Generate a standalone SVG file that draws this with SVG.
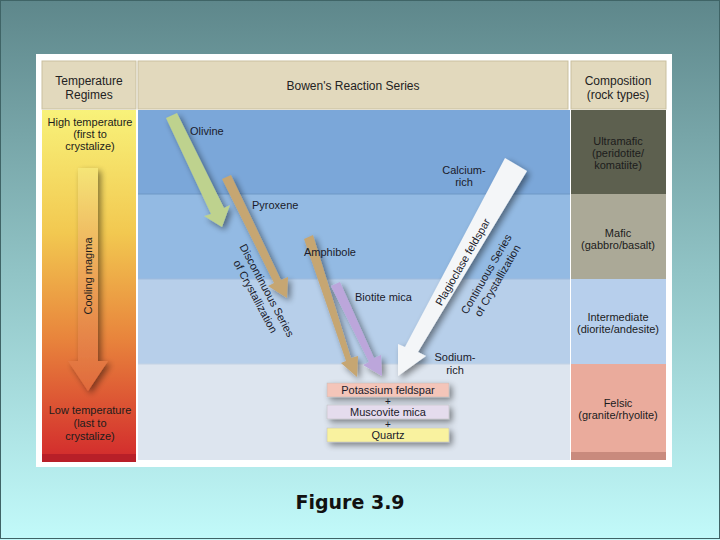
<svg xmlns="http://www.w3.org/2000/svg" width="720" height="540" viewBox="0 0 720 540">
<defs>
<linearGradient id="bg" x1="0" y1="0" x2="0" y2="1">
<stop offset="0" stop-color="#5e878b"/>
<stop offset="0.5" stop-color="#90c3c5"/>
<stop offset="1" stop-color="#c2fafa"/>
</linearGradient>
<linearGradient id="temp" x1="0" y1="0" x2="0" y2="1">
<stop offset="0" stop-color="#f8f27a"/>
<stop offset="0.35" stop-color="#f2c850"/>
<stop offset="0.65" stop-color="#e8843c"/>
<stop offset="1" stop-color="#d2292c"/>
</linearGradient>
<linearGradient id="cool" x1="0" y1="0" x2="0" y2="1">
<stop offset="0" stop-color="#f5e577"/>
<stop offset="0.5" stop-color="#eca255"/>
<stop offset="1" stop-color="#e06a3c"/>
</linearGradient>
<filter id="sh" x="-30%" y="-30%" width="160%" height="160%">
<feGaussianBlur in="SourceAlpha" stdDeviation="3"/>
<feOffset dx="3" dy="3"/>
<feComponentTransfer><feFuncA type="linear" slope="0.45"/></feComponentTransfer>
<feMerge><feMergeNode/><feMergeNode in="SourceGraphic"/></feMerge>
</filter>
</defs>
<style>
text{font-family:"Liberation Sans",Arial,sans-serif;font-size:11px;fill:#1a1a2a}
.c{text-anchor:middle}
.hd{fill:#e2d9bd;stroke:#c9bf9f;stroke-width:1}
.hdt{font-size:12px;text-anchor:middle;fill:#222}
.rc{font-size:11px;text-anchor:middle;fill:#1c1c1c}
.box{stroke:#bbb;stroke-width:0.5}
.pl{font-size:10px;text-anchor:middle;fill:#1a1a2a}
</style>
<rect x="0" y="0" width="720" height="540" fill="url(#bg)"/>
<rect x="0.5" y="0.5" width="719" height="538" fill="none" stroke="#3f6466" stroke-width="1"/>
<rect x="36" y="54" width="636" height="413" fill="#ffffff"/>

<g id="header">
<rect class="hd" x="42" y="61" width="94" height="48"/>
<text class="hdt" x="89" y="85">Temperature</text>
<text class="hdt" x="89" y="99">Regimes</text>
<rect class="hd" x="138" y="61" width="430" height="48"/>
<text class="hdt" x="353" y="90">Bowen's Reaction Series</text>
<rect class="hd" x="571" y="61" width="95" height="48"/>
<text class="hdt" x="618" y="85">Composition</text>
<text class="hdt" x="618" y="99">(rock types)</text>
</g>

<g id="bands">
<rect x="138" y="110" width="432" height="84" fill="#7ba7d9"/>
<rect x="138" y="194" width="432" height="85" fill="#93bae3"/>
<rect x="138" y="279" width="432" height="85" fill="#b7cfea"/>
<rect x="138" y="364" width="432" height="96" fill="#dde5ef"/>
<line x1="138" y1="194" x2="570" y2="194" stroke="#6f97c5" stroke-width="1"/>
<line x1="138" y1="279" x2="570" y2="279" stroke="#9fbbdc" stroke-width="1"/>
<line x1="138" y1="364" x2="570" y2="364" stroke="#c3d2e4" stroke-width="1"/>
</g>

<g id="temperature">
<rect x="42" y="110" width="94" height="352" fill="url(#temp)"/>
<rect x="42" y="454" width="94" height="8" fill="#b81f28"/>
<text class="rc" x="90" y="126">High temperature</text>
<text class="rc" x="90" y="138">(first to</text>
<text class="rc" x="90" y="150">crystalize)</text>
<g id="cooling" filter="url(#sh)">
<path d="M78,168 H98 V361 H108 L88,391 L68,361 H78 Z" fill="url(#cool)"/>
</g>
<text class="rc" transform="translate(92,276) rotate(-90)" font-size="13.5">Cooling magma</text>
<text class="rc" x="90" y="414">Low temperature</text>
<text class="rc" x="90" y="427">(last to</text>
<text class="rc" x="90" y="440">crystalize)</text>
</g>

<g id="composition">
<rect x="571" y="110" width="95" height="84" fill="#5d604f"/>
<text class="rc" x="618" y="145" fill="#2b2d25">Ultramafic</text>
<text class="rc" x="618" y="157" fill="#2b2d25">(peridotite/</text>
<text class="rc" x="618" y="169" fill="#2b2d25">komatiite)</text>
<rect x="571" y="194" width="95" height="85" fill="#aba997"/>
<text class="rc" x="618" y="237">Mafic</text>
<text class="rc" x="618" y="249">(gabbro/basalt)</text>
<rect x="571" y="279" width="95" height="85" fill="#b7cfec"/>
<text class="rc" x="618" y="321">Intermediate</text>
<text class="rc" x="618" y="333">(diorite/andesite)</text>
<rect x="571" y="364" width="95" height="91" fill="#eaab9c"/>
<rect x="571" y="452" width="95" height="8" fill="#c98a7d"/>
<text class="rc" x="618" y="407">Felsic</text>
<text class="rc" x="618" y="419">(granite/rhyolite)</text>
</g>

<g id="connectors" filter="url(#sh)">
<path d="M166,118 L177,113 L224,208 L230,205 L222,227 L204,216 L211,214 Z" fill="#bed28e"/>
<path d="M222,179 L231,175 L281,280 L288,277 L287,298 L268,286 L274,283 Z" fill="#c6a672"/>
<path d="M304,239 L313,235 L351,358 L358,356 L357,377 L341,363 L346,361 Z" fill="#c6a672"/>
<path d="M331,286 L340,282 L374,358 L381,355 L382,376 L363,365 L369,362 Z" fill="#bca6db"/>
<path d="M505,158 L527,171 L418,352 L426,356 L398,376 L398,344 L405,347 Z" fill="#f4f6f8"/>
</g>

<g id="labels">
<text x="190" y="135" font-size="11">Olivine</text>
<text x="252" y="209" font-size="11">Pyroxene</text>
<text x="304" y="256" font-size="11">Amphibole</text>
<text x="355" y="301" font-size="11">Biotite mica</text>
<text class="c" x="464" y="174">Calcium-</text>
<text class="c" x="464" y="186">rich</text>
<text class="c" x="455" y="361">Sodium-</text>
<text class="c" x="455" y="374">rich</text>
<g transform="translate(260,294) rotate(62)">
<text class="c" y="-4" font-size="12.5">Discontinuous Series</text>
<text class="c" y="9" font-size="12.5">of Crystallization</text>
</g>
<g transform="translate(493,278) rotate(-60)">
<text class="c" y="-4" font-size="12">Continuous Series</text>
<text class="c" y="9" font-size="12">of Crystallization</text>
</g>
<text class="c" transform="translate(466,264) rotate(-60)" font-size="12">Plagioclase feldspar</text>
</g>

<g id="products" filter="url(#sh)">
<rect class="box" x="327" y="383" width="122" height="14" fill="#f4c5b9"/>
<rect class="box" x="327" y="405" width="122" height="14" fill="#e5dced"/>
<rect class="box" x="327" y="428" width="122" height="14" fill="#f9f29f"/>
</g>
<g id="product-labels">
<text class="c" x="388" y="394">Potassium feldspar</text>
<text class="pl" x="388" y="405">+</text>
<text class="c" x="388" y="416">Muscovite mica</text>
<text class="pl" x="388" y="428">+</text>
<text class="c" x="388" y="439">Quartz</text>
</g>

<text x="350" y="509" text-anchor="middle" style="font-family:'DejaVu Sans',Verdana,sans-serif;font-weight:bold;font-size:19px;fill:#111">Figure 3.9</text>
</svg>
